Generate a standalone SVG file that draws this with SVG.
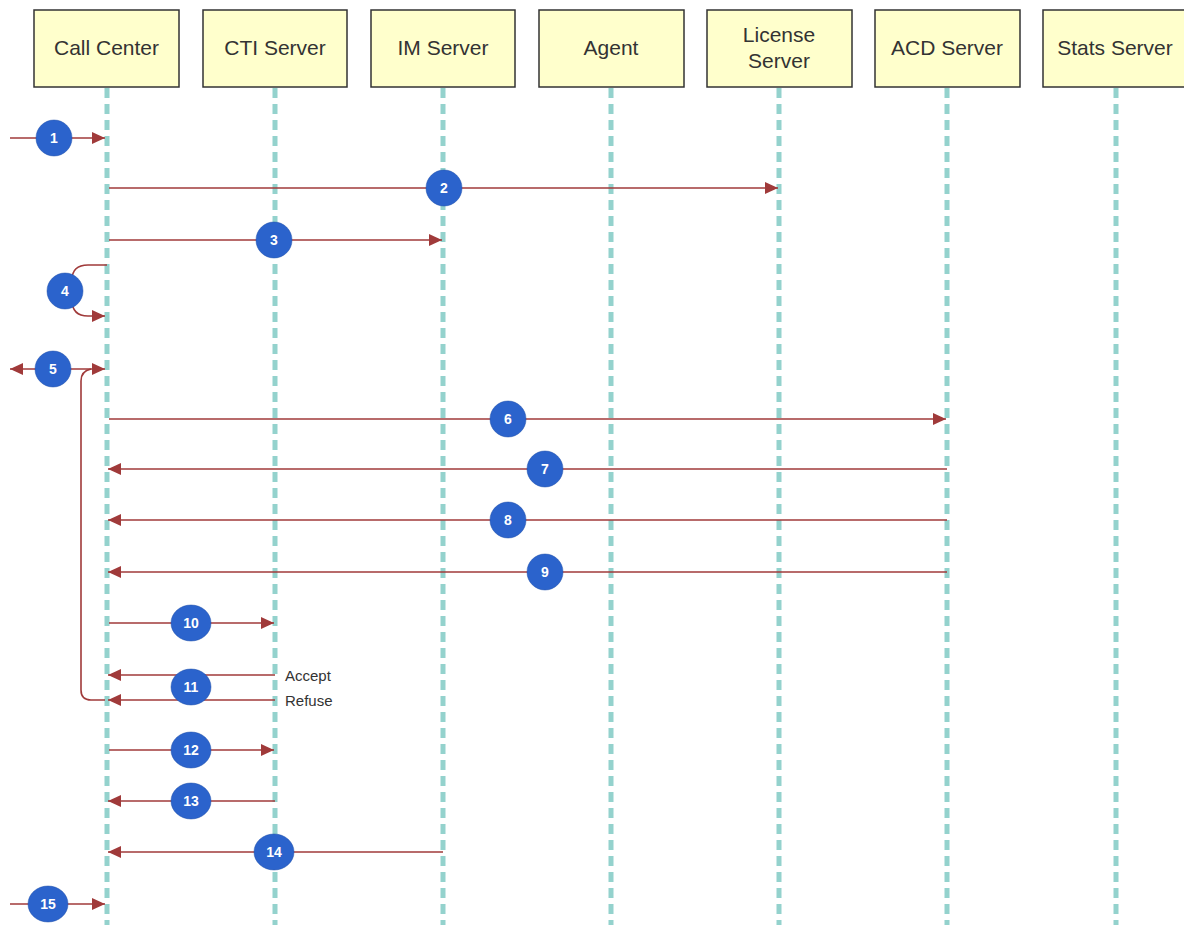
<svg xmlns="http://www.w3.org/2000/svg" width="1184" height="925" viewBox="0 0 1184 925">
<style>
.box{fill:#ffffcc;stroke:#333333;stroke-width:1.5}
.title{font-family:"Liberation Sans",Arial,sans-serif;font-size:21px;fill:#333333;text-anchor:middle}
.life{stroke:#94d2cd;stroke-width:5;stroke-dasharray:10 6;fill:none}
.msg{stroke:#a03a3a;stroke-width:1.6;fill:none}
.num{fill:#2b63cc;stroke:#1f4fa8;stroke-width:0.5}
.numt{font-family:"Liberation Sans",Arial,sans-serif;font-size:14px;font-weight:bold;fill:#ffffff;text-anchor:middle}
.lbl{font-family:"Liberation Sans",Arial,sans-serif;font-size:15px;fill:#333333}
</style>
<defs>
<marker id="ah" viewBox="0 0 13 12" refX="13" refY="6" markerWidth="13" markerHeight="12" markerUnits="userSpaceOnUse" orient="auto-start-reverse">
<path d="M0,0 L13,6 L0,12 Z" fill="#a03a3a"/>
</marker>
</defs>
<rect width="1184" height="925" fill="#ffffff"/>
<g id="lifelines">
<line class="life" x1="107" y1="88" x2="107" y2="925"/>
<line class="life" x1="275" y1="88" x2="275" y2="925"/>
<line class="life" x1="443" y1="88" x2="443" y2="925"/>
<line class="life" x1="611" y1="88" x2="611" y2="925"/>
<line class="life" x1="779" y1="88" x2="779" y2="925"/>
<line class="life" x1="947" y1="88" x2="947" y2="925"/>
<line class="life" x1="1116" y1="88" x2="1116" y2="925"/>
</g>
<g id="call-center"><rect class="box" x="34" y="10" width="145" height="77"/><text class="title" x="106.5" y="55">Call Center</text></g>
<g id="cti-server"><rect class="box" x="203" y="10" width="144" height="77"/><text class="title" x="275" y="55">CTI Server</text></g>
<g id="im-server"><rect class="box" x="371" y="10" width="144" height="77"/><text class="title" x="443" y="55">IM Server</text></g>
<g id="agent"><rect class="box" x="539" y="10" width="145" height="77"/><text class="title" x="611" y="55">Agent</text></g>
<g id="license-server"><rect class="box" x="707" y="10" width="145" height="77"/><text class="title" x="779" y="42">License</text><text class="title" x="779" y="68">Server</text></g>
<g id="acd-server"><rect class="box" x="875" y="10" width="145" height="77"/><text class="title" x="947" y="55">ACD Server</text></g>
<g id="stats-server"><rect class="box" x="1043" y="10" width="145" height="77"/><text class="title" x="1115" y="55">Stats Server</text></g>
<g id="connectors">
<line class="msg" x1="10" y1="138" x2="105" y2="138" marker-end="url(#ah)"/>
<line class="msg" x1="109" y1="188" x2="778" y2="188" marker-end="url(#ah)"/>
<line class="msg" x1="109" y1="240" x2="442" y2="240" marker-end="url(#ah)"/>
<path class="msg" d="M107,265 H88 Q72,265 72,280 V300 Q72,316 88,316 H105" marker-end="url(#ah)"/>
<line class="msg" x1="10" y1="369" x2="105" y2="369" marker-start="url(#ah)" marker-end="url(#ah)"/>
<path class="msg" d="M105,700 H91 Q81,700 81,690 V381 Q81,371 91,369"/>
<line class="msg" x1="109" y1="419" x2="946" y2="419" marker-end="url(#ah)"/>
<line class="msg" x1="947" y1="469" x2="108" y2="469" marker-end="url(#ah)"/>
<line class="msg" x1="947" y1="520" x2="108" y2="520" marker-end="url(#ah)"/>
<line class="msg" x1="947" y1="572" x2="108" y2="572" marker-end="url(#ah)"/>
<line class="msg" x1="109" y1="623" x2="274" y2="623" marker-end="url(#ah)"/>
<line class="msg" x1="275" y1="675" x2="108" y2="675" marker-end="url(#ah)"/>
<line class="msg" x1="275" y1="700" x2="108" y2="700" marker-end="url(#ah)"/>
<line class="msg" x1="109" y1="750" x2="274" y2="750" marker-end="url(#ah)"/>
<line class="msg" x1="275" y1="801" x2="108" y2="801" marker-end="url(#ah)"/>
<line class="msg" x1="443" y1="852" x2="108" y2="852" marker-end="url(#ah)"/>
<line class="msg" x1="10" y1="904" x2="105" y2="904" marker-end="url(#ah)"/>
</g>
<g id="labels">
<text class="lbl" x="285" y="681">Accept</text>
<text class="lbl" x="285" y="706">Refuse</text>
</g>
<g id="step-markers">
<g id="s1"><ellipse class="num" cx="54" cy="138" rx="18" ry="18"/><text class="numt" x="54" y="143">1</text></g>
<g id="s2"><ellipse class="num" cx="444" cy="188" rx="18" ry="18"/><text class="numt" x="444" y="193">2</text></g>
<g id="s3"><ellipse class="num" cx="274" cy="240" rx="18" ry="18"/><text class="numt" x="274" y="245">3</text></g>
<g id="s4"><ellipse class="num" cx="65" cy="291" rx="18" ry="18"/><text class="numt" x="65" y="296">4</text></g>
<g id="s5"><ellipse class="num" cx="53" cy="369" rx="18" ry="18"/><text class="numt" x="53" y="374">5</text></g>
<g id="s6"><ellipse class="num" cx="508" cy="419" rx="18" ry="18"/><text class="numt" x="508" y="424">6</text></g>
<g id="s7"><ellipse class="num" cx="545" cy="469" rx="18" ry="18"/><text class="numt" x="545" y="474">7</text></g>
<g id="s8"><ellipse class="num" cx="508" cy="520" rx="18" ry="18"/><text class="numt" x="508" y="525">8</text></g>
<g id="s9"><ellipse class="num" cx="545" cy="572" rx="18" ry="18"/><text class="numt" x="545" y="577">9</text></g>
<g id="s10"><ellipse class="num" cx="191" cy="623" rx="20" ry="18"/><text class="numt" x="191" y="628">10</text></g>
<g id="s11"><ellipse class="num" cx="191" cy="687" rx="20" ry="18"/><text class="numt" x="191" y="692">11</text></g>
<g id="s12"><ellipse class="num" cx="191" cy="750" rx="20" ry="18"/><text class="numt" x="191" y="755">12</text></g>
<g id="s13"><ellipse class="num" cx="191" cy="801" rx="20" ry="18"/><text class="numt" x="191" y="806">13</text></g>
<g id="s14"><ellipse class="num" cx="274" cy="852" rx="20" ry="18"/><text class="numt" x="274" y="857">14</text></g>
<g id="s15"><ellipse class="num" cx="48" cy="904" rx="20" ry="18"/><text class="numt" x="48" y="909">15</text></g>
</g>
</svg>
